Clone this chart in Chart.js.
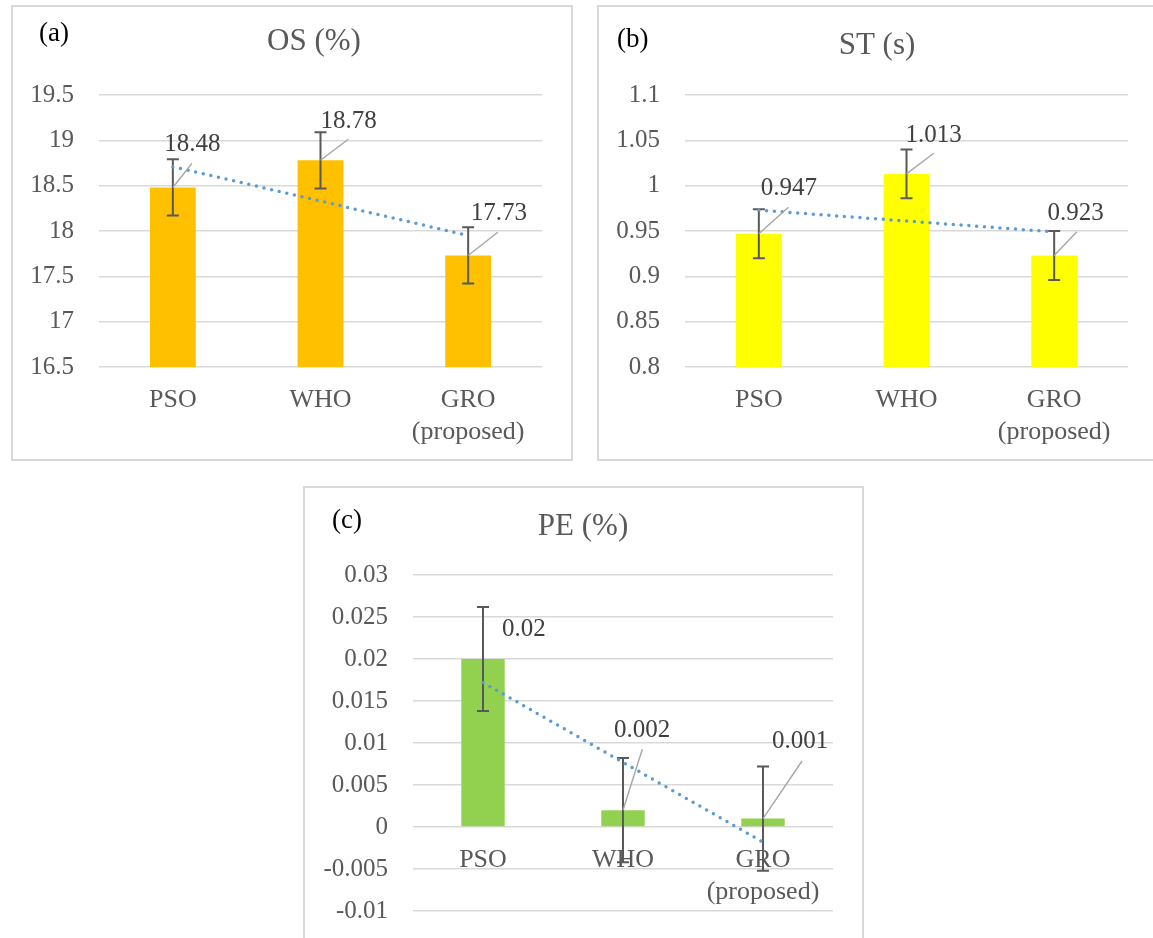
<!DOCTYPE html>
<html>
<head>
<meta charset="utf-8">
<script src="https://cdn.jsdelivr.net/npm/chart.js@4.4.1/dist/chart.umd.min.js"></script>
<style>
  html, body { margin: 0; padding: 0; background: #ffffff; overflow: hidden; }
  #page { position: relative; width: 1153px; height: 938px; overflow: hidden; background: #ffffff; }
  .panel { position: absolute; border: 2px solid #d9d9d9; box-sizing: border-box; background: #ffffff; overflow: hidden; }
  .panel canvas { display: block; }
</style>
</head>
<body>
<div id="page">
  <div class="panel" style="left:11px; top:5px; width:562px; height:456px;"><canvas id="chartOS" width="558" height="452"></canvas></div>
  <div class="panel" style="left:597px; top:5px; width:575px; height:456px;"><canvas id="chartST" width="571" height="452"></canvas></div>
  <div class="panel" style="left:303px; top:486px; width:561px; height:470px;"><canvas id="chartPE" width="557" height="466"></canvas></div>
</div>

<script>
// ---- data ----
const categories = ['PSO', 'WHO', ['GRO', '(proposed)']];

const osValues = [18.48, 18.78, 17.73];
const osErrors = [0.31, 0.31, 0.31];
const osTrend = [18.71, null, 17.95];
const osTicks = [16.5, 17, 17.5, 18, 18.5, 19, 19.5];
const osTickLabels = ['16.5', '17', '17.5', '18', '18.5', '19', '19.5'];

const stValues = [0.947, 1.013, 0.923];
const stErrors = [0.027, 0.027, 0.027];
const stTrend = [0.973, null, 0.949];
const stTicks = [0.8, 0.85, 0.9, 0.95, 1, 1.05, 1.1];
const stTickLabels = ['0.8', '0.85', '0.9', '0.95', '1', '1.05', '1.1'];

const peValues = [0.02, 0.002, 0.001];
const peErrors = [0.0062, 0.0062, 0.0062];
const peTrend = [0.0172, null, -0.0018];
const peTicks = [-0.01, -0.005, 0, 0.005, 0.01, 0.015, 0.02, 0.025, 0.03];
const peTickLabels = ['-0.01', '-0.005', '0', '0.005', '0.01', '0.015', '0.02', '0.025', '0.03'];

// ---- styling ----
const SERIF = '"Liberation Serif", "Times New Roman", Times, serif';
const AXIS_TEXT = '#595959';
const LABEL_TEXT = '#404040';
const GRID = '#d9d9d9';
const TREND = '#5b9bd5';

// Draws error bars on the bar dataset, then value labels with leader lines,
// the chart heading and the panel tag.
const panelDecor = {
  id: 'panelDecor',
  afterDatasetDraw(chart, args, opts) {
    if (args.index !== 0) return;
    const ctx = chart.ctx;
    const ys = chart.scales.y;
    const values = chart.data.datasets[0].data;
    ctx.save();
    ctx.strokeStyle = '#595959';
    ctx.lineWidth = 2;
    args.meta.data.forEach((el, i) => {
      const v = values[i], e = opts.errors[i];
      const top = ys.getPixelForValue(v + e);
      const bot = ys.getPixelForValue(v - e);
      const x = el.x;
      ctx.beginPath();
      ctx.moveTo(x, top); ctx.lineTo(x, bot);
      ctx.moveTo(x - 6, top); ctx.lineTo(x + 6, top);
      ctx.moveTo(x - 6, bot); ctx.lineTo(x + 6, bot);
      ctx.stroke();
    });
    ctx.restore();
  },
  afterDraw(chart, args, opts) {
    const ctx = chart.ctx;
    const meta = chart.getDatasetMeta(0);
    const values = chart.data.datasets[0].data;
    ctx.save();
    meta.data.forEach((el, i) => {
      const o = opts.labelPos[i];
      if (o.leader) {
        ctx.strokeStyle = '#a6a6a6';
        ctx.lineWidth = 1.4;
        ctx.beginPath();
        ctx.moveTo(el.x, el.y);
        ctx.lineTo(el.x + o.leader[0], el.y + o.leader[1]);
        ctx.stroke();
      }
      ctx.fillStyle = LABEL_TEXT;
      ctx.font = '25px ' + SERIF;
      ctx.textAlign = 'center';
      ctx.textBaseline = 'middle';
      ctx.fillText(String(values[i]), el.x + o.text[0], el.y + o.text[1]);
    });
    ctx.textBaseline = 'alphabetic';
    ctx.fillStyle = AXIS_TEXT;
    ctx.font = '31px ' + SERIF;
    ctx.textAlign = 'center';
    ctx.fillText(opts.heading, opts.headingX, opts.headingY);
    ctx.fillStyle = '#000000';
    ctx.font = '27px ' + SERIF;
    ctx.textAlign = 'left';
    ctx.fillText(opts.tag, opts.tagX, opts.tagY);
    ctx.restore();
  }
};

function makeChart(id, cfg) {
  const xScale = {
    type: 'category',
    offset: true,
    grid: { display: false, drawTicks: false },
    border: { display: false },
    ticks: {
      color: AXIS_TEXT,
      font: { family: SERIF, size: 26 },
      padding: 18,
      maxRotation: 0,
      autoSkip: false
    }
  };
  if (cfg.xAtZero) {
    xScale.position = { y: 0 };
  } else {
    xScale.position = 'bottom';
    xScale.afterFit = (s) => { s.height = cfg.xHeight; };
  }
  return new Chart(document.getElementById(id), {
    data: {
      labels: categories,
      datasets: [
        {
          type: 'bar',
          data: cfg.values,
          backgroundColor: cfg.color,
          borderWidth: 0,
          barPercentage: 0.31,
          categoryPercentage: 1,
          order: 2
        },
        {
          type: 'line',
          data: cfg.trend,
          spanGaps: true,
          borderColor: TREND,
          borderWidth: 3.5,
          borderDash: [0, 7.8],
          borderCapStyle: 'round',
          pointRadius: 0,
          fill: false,
          order: 1
        }
      ]
    },
    options: {
      responsive: false,
      animation: false,
      events: [],
      layout: { padding: cfg.padding },
      plugins: {
        legend: { display: false },
        title: { display: false },
        tooltip: { enabled: false },
        panelDecor: {
          errors: cfg.errors,
          labelPos: cfg.labelPos,
          heading: cfg.heading,
          headingX: cfg.headingX,
          headingY: cfg.headingY,
          tag: cfg.tag,
          tagX: cfg.tagX,
          tagY: cfg.tagY
        }
      },
      scales: {
        x: xScale,
        y: {
          type: 'linear',
          min: cfg.ticks[0],
          max: cfg.ticks[cfg.ticks.length - 1],
          afterBuildTicks: (s) => { s.ticks = cfg.ticks.map(v => ({ value: v })); },
          afterFit: (s) => { s.width = cfg.yWidth; },
          grid: { color: GRID, lineWidth: 1.5, drawTicks: false },
          border: { display: false },
          ticks: {
            color: AXIS_TEXT,
            font: { family: SERIF, size: 25 },
            padding: 25,
            autoSkip: false,
            callback: (v, i) => cfg.tickLabels[i]
          }
        }
      }
    },
    plugins: [panelDecor]
  });
}

makeChart('chartOS', {
  values: osValues, errors: osErrors, trend: osTrend,
  ticks: osTicks, tickLabels: osTickLabels,
  color: '#ffc000',
  padding: { top: 88, right: 29, bottom: 0, left: 0 },
  yWidth: 86, xHeight: 92,
  heading: 'OS (%)', headingX: 301, headingY: 43,
  tag: '(a)', tagX: 26, tagY: 34,
  labelPos: [
    { leader: [19, -24], text: [19.6, -43] },
    { leader: [27.8, -21], text: [28.2, -39.3] },
    { leader: [29.6, -23.2], text: [30.6, -42.5] }
  ]
});

makeChart('chartST', {
  values: stValues, errors: stErrors, trend: stTrend,
  ticks: stTicks, tickLabels: stTickLabels,
  color: '#ffff00',
  padding: { top: 88, right: 42, bottom: 0, left: 0 },
  yWidth: 86, xHeight: 92,
  heading: 'ST (s)', headingX: 278, headingY: 46.5,
  tag: '(b)', tagX: 18, tagY: 40,
  labelPos: [
    { leader: [29.6, -26.4], text: [30, -45.7] },
    { leader: [27.3, -20.6], text: [27, -38] },
    { leader: [22.7, -23.8], text: [21.4, -42.5] }
  ]
});

makeChart('chartPE', {
  values: peValues, errors: peErrors, trend: peTrend,
  ticks: peTicks, tickLabels: peTickLabels,
  color: '#92d050',
  padding: { top: 87, right: 29, bottom: 43, left: 0 },
  yWidth: 108, xAtZero: true,
  heading: 'PE (%)', headingX: 278, headingY: 47,
  tag: '(c)', tagX: 27, tagY: 40,
  labelPos: [
    { leader: null, text: [40.8, -29.7] },
    { leader: [19.3, -61], text: [19, -80] },
    { leader: [39, -57.6], text: [37, -77.3] }
  ]
});
</script>
</body>
</html>
